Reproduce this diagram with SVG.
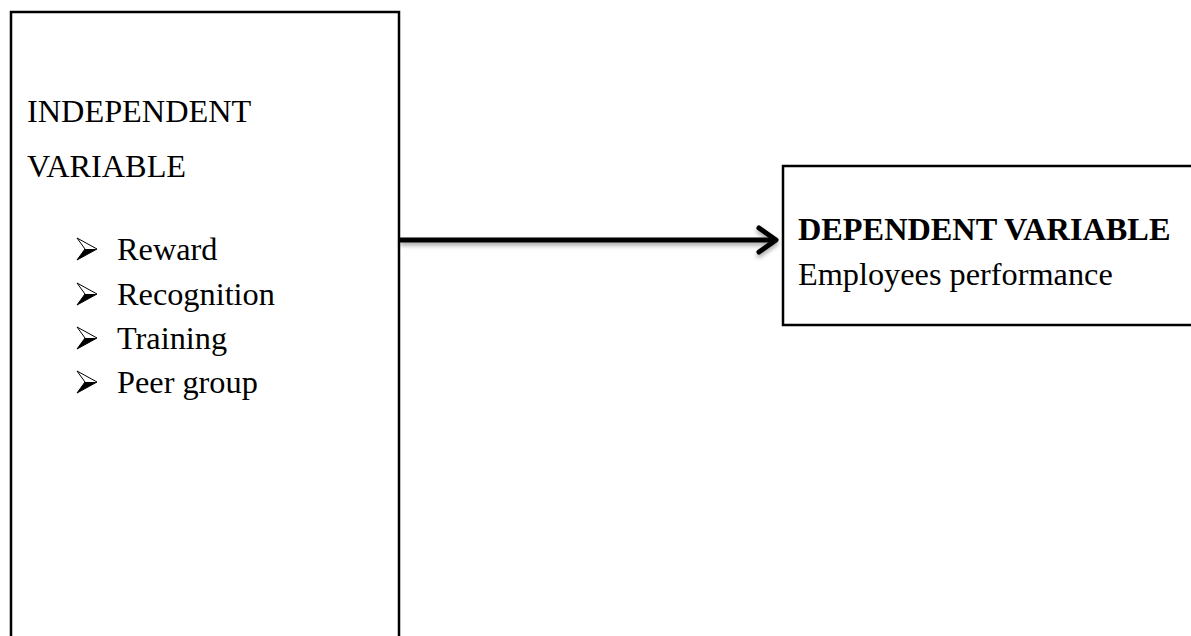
<svg xmlns="http://www.w3.org/2000/svg" width="1191" height="636" viewBox="0 0 1191 636">
<style>
.box{fill:#fff;stroke:#000;stroke-width:2.5}
.t{font-family:"Liberation Serif","Times New Roman",serif;font-size:32.3px;fill:#000}
.b{font-weight:bold}
</style>
<defs>
<filter id="sh" x="-10%" y="-50%" width="120%" height="250%">
<feDropShadow dx="0" dy="3" stdDeviation="2" flood-color="#000" flood-opacity="0.35"/>
</filter>
</defs>
<rect width="1191" height="636" fill="#fff"/>
<g id="independent">
<rect class="box" x="11" y="12" width="388" height="640"/>
<text class="t" x="27" y="122">INDEPENDENT</text>
<text class="t" x="27" y="177">VARIABLE</text>
<g id="bullets">
<path d="M77,238 L97,249 L77,260 L85,249 Z" fill="#fff" stroke="#000" stroke-width="1"/>
<path d="M77,260 L97,249 L85,249 Z" fill="#000"/>
<path d="M77,283 L97,294 L77,305 L85,294 Z" fill="#fff" stroke="#000" stroke-width="1"/>
<path d="M77,305 L97,294 L85,294 Z" fill="#000"/>
<path d="M77,327 L97,338 L77,349 L85,338 Z" fill="#fff" stroke="#000" stroke-width="1"/>
<path d="M77,349 L97,338 L85,338 Z" fill="#000"/>
<path d="M77,371 L97,382 L77,393 L85,382 Z" fill="#fff" stroke="#000" stroke-width="1"/>
<path d="M77,393 L97,382 L85,382 Z" fill="#000"/>
</g>
<text class="t" x="117" y="260">Reward</text>
<text class="t" x="117" y="305">Recognition</text>
<text class="t" x="117" y="349">Training</text>
<text class="t" x="117" y="393">Peer group</text>
</g>
<g id="dependent">
<rect class="box" x="783" y="166" width="440" height="159"/>
<text class="t b" x="798" y="240">DEPENDENT VARIABLE</text>
<text class="t" x="798" y="285">Employees performance</text>
</g>
<g id="connectors" filter="url(#sh)">
<line x1="400" y1="240" x2="774" y2="240" stroke="#000" stroke-width="5"/>
<polyline points="759,228 776,240 759,252" fill="none" stroke="#000" stroke-width="5" stroke-linecap="round" stroke-linejoin="round"/>
</g>
</svg>
